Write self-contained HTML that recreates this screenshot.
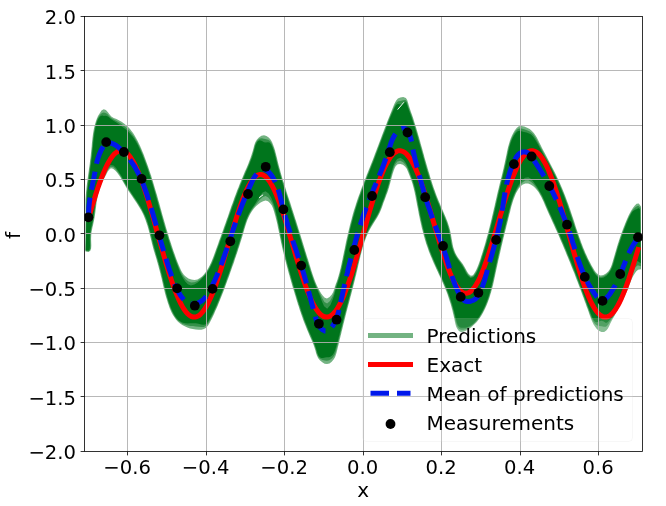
<!DOCTYPE html>
<html><head><meta charset="utf-8"><title>plot</title><style>html,body{margin:0;padding:0;background:#fff}svg{display:block}</style></head><body>
<svg width="666" height="506" viewBox="0 0 666 506" font-family="'DejaVu Sans', 'Liberation Sans', sans-serif" font-size="20" fill="#000">
<rect width="666" height="506" fill="#fff"/>
<defs><clipPath id="ax"><rect x="84.5" y="16.5" width="558.0" height="435.0"/></clipPath></defs>
<g clip-path="url(#ax)">
<path d="M85.5 200.0L85.7 197.1L85.9 194.3L86.1 191.4L86.4 188.6L86.7 185.8L87.1 183.0L87.4 180.2L87.8 177.4L88.2 174.6L88.6 171.8L89.0 169.0L89.4 166.2L89.8 163.3L90.1 160.5L90.5 157.7L90.8 154.9L91.1 152.0L91.4 149.1L91.7 146.3L91.9 143.4L92.2 140.5L92.5 137.7L92.9 134.8L93.3 132.0L93.8 129.3L94.4 126.6L95.1 123.9L95.9 121.3L96.8 118.7L98.0 116.1L99.6 113.4L101.5 110.6L103.7 109.2L105.9 110.0L107.9 112.3L109.6 114.6L111.3 116.6L113.7 118.0L116.5 119.1L119.2 120.4L121.6 121.8L124.0 123.4L126.1 125.2L128.1 127.1L130.0 129.1L131.7 131.3L133.4 133.6L134.9 136.0L136.3 138.4L137.7 140.9L138.9 143.5L140.1 146.1L141.3 148.8L142.4 151.5L143.5 154.1L144.5 156.8L145.5 159.5L146.5 162.2L147.5 164.9L148.4 167.6L149.3 170.2L150.2 172.9L151.1 175.6L151.9 178.3L152.8 181.0L153.6 183.7L154.4 186.5L155.2 189.2L156.0 191.9L156.8 194.6L157.6 197.3L158.3 200.1L159.1 202.8L159.9 205.5L160.6 208.3L161.4 211.0L162.1 213.7L162.9 216.5L163.7 219.2L164.5 222.0L165.3 224.7L166.0 227.4L166.9 230.2L167.7 232.9L168.5 235.6L169.3 238.4L170.2 241.1L171.1 243.8L172.0 246.5L172.9 249.2L173.8 251.9L174.8 254.6L175.7 257.3L176.7 259.9L177.7 262.6L178.8 265.2L179.9 267.8L181.1 270.4L182.4 272.8L184.0 275.0L186.0 276.8L188.4 278.4L191.3 279.5L194.5 279.9L197.4 279.5L199.9 278.1L202.0 276.4L203.9 274.4L205.6 272.3L207.2 270.0L208.6 267.6L209.9 265.1L211.1 262.5L212.2 259.8L213.3 257.1L214.3 254.3L215.3 251.6L216.2 248.9L217.2 246.2L218.2 243.5L219.1 240.8L220.1 238.2L221.1 235.5L222.0 232.9L223.0 230.2L223.9 227.6L224.8 224.9L225.8 222.2L226.7 219.5L227.7 216.9L228.6 214.2L229.5 211.5L230.5 208.8L231.4 206.1L232.4 203.4L233.4 200.8L234.3 198.1L235.3 195.4L236.3 192.7L237.3 190.1L238.4 187.4L239.4 184.8L240.5 182.1L241.6 179.5L242.7 176.9L243.8 174.2L244.9 171.6L246.1 169.0L247.2 166.4L248.3 163.8L249.3 161.1L250.3 158.5L251.2 155.8L252.1 153.1L252.9 150.4L253.6 147.7L254.3 145.0L255.3 142.3L256.8 139.8L258.9 137.4L261.4 135.7L264.0 135.2L266.5 135.9L268.7 137.4L270.5 139.6L272.0 142.1L273.1 144.8L274.1 147.5L275.0 150.3L275.7 153.0L276.4 155.8L277.1 158.5L277.7 161.3L278.4 164.0L279.1 166.8L279.9 169.5L280.6 172.2L281.4 175.0L282.2 177.7L283.0 180.4L283.9 183.1L284.7 185.8L285.6 188.6L286.4 191.3L287.3 194.0L288.2 196.7L289.1 199.4L290.0 202.1L290.9 204.8L291.7 207.5L292.6 210.3L293.5 213.0L294.4 215.7L295.2 218.4L296.1 221.1L296.9 223.8L297.8 226.5L298.6 229.2L299.5 231.9L300.3 234.6L301.2 237.4L302.0 240.1L302.8 242.8L303.7 245.5L304.5 248.2L305.3 250.9L306.2 253.7L307.0 256.4L307.9 259.1L308.7 261.8L309.5 264.5L310.4 267.2L311.2 270.0L312.1 272.7L313.0 275.4L313.9 278.1L314.9 280.8L316.0 283.4L317.1 286.0L318.4 288.6L319.7 291.1L321.2 293.5L322.9 295.8L324.8 297.8L327.0 298.5L329.6 297.1L331.8 294.6L333.2 292.0L334.1 289.4L334.9 286.8L335.8 284.1L336.8 281.4L337.7 278.7L338.5 276.0L339.3 273.2L340.0 270.5L340.7 267.7L341.3 264.9L341.9 262.1L342.5 259.3L343.0 256.6L343.6 253.8L344.2 251.0L344.8 248.2L345.3 245.4L345.9 242.6L346.5 239.8L347.2 237.1L347.8 234.3L348.4 231.5L349.1 228.8L349.7 226.0L350.4 223.3L351.2 220.5L351.9 217.8L352.6 215.1L353.4 212.3L354.2 209.6L355.1 206.9L355.9 204.2L356.8 201.5L357.7 198.8L358.7 196.1L359.7 193.4L360.6 190.7L361.6 188.1L362.7 185.4L363.7 182.7L364.7 180.1L365.8 177.4L366.8 174.8L367.9 172.1L368.9 169.5L370.0 166.8L371.0 164.2L372.1 161.5L373.1 158.9L374.1 156.2L375.1 153.6L376.1 151.0L377.1 148.3L378.1 145.7L379.1 143.0L380.1 140.4L381.1 137.7L382.1 135.1L383.1 132.4L384.1 129.7L385.2 127.1L386.2 124.4L387.2 121.8L388.3 119.1L389.3 116.4L390.4 113.7L391.5 111.0L392.6 108.3L393.7 105.6L394.8 103.0L396.2 100.5L397.9 98.6L400.3 97.4L403.2 97.1L405.9 98.0L407.3 100.3L408.2 103.2L409.0 106.1L409.9 108.8L410.8 111.5L411.8 114.2L412.7 116.8L413.6 119.5L414.4 122.2L415.3 124.9L416.1 127.6L416.9 130.3L417.7 133.0L418.5 135.8L419.3 138.5L420.1 141.2L420.8 144.0L421.6 146.7L422.4 149.5L423.1 152.2L423.9 155.0L424.6 157.7L425.4 160.5L426.2 163.2L427.0 165.9L427.8 168.7L428.6 171.4L429.4 174.1L430.2 176.9L431.1 179.6L431.9 182.3L432.8 185.0L433.7 187.7L434.7 190.4L435.6 193.0L436.6 195.7L437.6 198.3L438.7 201.0L439.8 203.6L440.9 206.2L442.0 208.8L443.2 211.4L444.3 214.0L445.4 216.6L446.5 219.2L447.5 221.8L448.4 224.5L449.3 227.2L450.0 230.0L450.6 232.7L451.1 235.6L451.6 238.4L452.1 241.3L452.6 244.1L453.2 246.9L454.0 249.6L455.0 252.2L456.2 254.7L457.7 257.2L459.4 259.5L461.1 261.8L462.8 264.1L464.3 266.5L465.7 269.0L467.0 271.5L468.7 273.9L470.9 275.8L473.0 275.2L474.8 272.6L476.2 269.9L477.4 267.3L478.4 264.7L479.4 262.1L480.3 259.4L481.1 256.6L482.0 253.9L482.8 251.2L483.6 248.5L484.5 245.8L485.3 243.0L486.0 240.3L486.8 237.5L487.6 234.8L488.3 232.0L489.0 229.3L489.7 226.5L490.4 223.8L491.0 221.0L491.7 218.2L492.3 215.5L493.0 212.7L493.6 209.9L494.3 207.2L494.9 204.4L495.5 201.6L496.2 198.8L496.8 196.1L497.4 193.3L498.1 190.5L498.8 187.8L499.4 185.0L500.1 182.2L500.8 179.5L501.5 176.7L502.2 173.9L502.8 171.2L503.5 168.4L504.1 165.6L504.7 162.9L505.3 160.1L505.9 157.3L506.5 154.5L507.0 151.8L507.6 149.0L508.3 146.2L509.1 143.5L509.9 140.8L510.9 138.1L512.0 135.5L513.4 132.8L514.9 130.2L516.7 127.9L518.8 126.3L521.4 125.9L524.3 126.6L527.1 127.8L529.7 129.1L531.9 130.9L533.8 132.9L535.4 135.2L536.8 137.6L538.2 140.2L539.4 142.7L540.7 145.3L542.0 147.9L543.3 150.4L544.7 152.9L546.0 155.5L547.3 158.0L548.6 160.5L549.9 163.0L551.2 165.5L552.5 168.1L553.8 170.6L555.1 173.1L556.4 175.7L557.6 178.2L558.8 180.8L560.0 183.4L561.1 186.0L562.2 188.6L563.3 191.2L564.4 193.9L565.4 196.5L566.4 199.2L567.4 201.9L568.4 204.6L569.3 207.3L570.3 210.0L571.2 212.7L572.1 215.4L573.0 218.1L573.9 220.8L574.8 223.5L575.6 226.2L576.5 228.9L577.4 231.6L578.3 234.2L579.2 236.9L580.2 239.5L581.1 242.2L582.1 244.8L583.1 247.5L584.2 250.1L585.3 252.7L586.5 255.3L587.7 257.9L588.9 260.5L590.3 263.1L591.7 265.7L593.2 268.3L594.8 270.9L596.5 273.1L598.5 274.8L600.7 275.5L603.4 275.0L606.0 273.5L608.2 271.5L609.8 269.2L611.0 266.7L612.0 264.0L612.8 261.2L613.6 258.5L614.4 255.7L615.2 252.9L616.0 250.2L616.8 247.4L617.6 244.7L618.5 242.0L619.4 239.3L620.3 236.6L621.2 234.0L622.2 231.3L623.2 228.6L624.2 226.0L625.2 223.4L626.3 220.8L627.4 218.2L628.6 215.6L629.9 213.0L631.3 210.5L632.9 208.1L634.6 205.7L636.6 203.8L638.8 203.5L641.0 206.6L641.0 269.3L638.1 269.8L636.1 271.5L634.6 273.7L633.2 276.1L632.0 278.5L630.9 281.1L629.9 283.7L628.9 286.3L627.8 288.9L626.8 291.5L625.7 294.0L624.6 296.5L623.4 299.0L622.1 301.4L620.9 303.8L619.6 306.2L618.3 308.6L617.0 311.0L615.7 313.5L614.4 315.9L613.0 318.3L611.7 320.8L610.4 323.3L609.2 325.9L607.9 328.4L606.3 330.6L604.1 331.9L601.4 331.9L598.9 330.7L596.8 328.9L595.1 326.8L593.6 324.6L592.4 322.1L591.3 319.5L590.4 316.9L589.4 314.3L588.5 311.6L587.6 309.0L586.6 306.4L585.7 303.8L584.7 301.2L583.8 298.6L582.8 296.0L581.9 293.4L580.9 290.8L580.0 288.2L579.0 285.7L578.0 283.1L577.0 280.5L576.0 278.0L575.1 275.4L574.1 272.8L573.0 270.3L572.0 267.7L571.0 265.2L570.0 262.6L568.9 260.1L567.9 257.5L566.8 254.9L565.8 252.4L564.7 249.8L563.6 247.3L562.6 244.7L561.5 242.2L560.4 239.7L559.3 237.1L558.2 234.6L557.1 232.1L555.9 229.6L554.8 227.1L553.7 224.5L552.5 222.0L551.4 219.5L550.3 217.0L549.1 214.5L548.0 212.0L546.9 209.5L545.8 207.0L544.7 204.4L543.6 201.8L542.4 199.3L541.2 196.8L539.9 194.4L538.5 192.1L536.9 189.9L535.0 187.8L533.0 186.0L530.6 184.4L528.1 183.4L525.4 183.5L522.8 184.6L520.6 186.3L518.8 188.5L517.3 190.9L516.0 193.3L514.9 195.9L513.9 198.4L513.0 201.0L512.2 203.7L511.4 206.3L510.7 209.0L510.1 211.7L509.4 214.3L508.7 217.0L508.1 219.7L507.4 222.4L506.7 225.0L506.1 227.7L505.4 230.4L504.7 233.1L504.1 235.8L503.4 238.4L502.8 241.1L502.2 243.8L501.5 246.5L500.9 249.2L500.3 251.9L499.7 254.6L499.1 257.3L498.4 260.0L497.9 262.6L497.3 265.3L496.7 268.0L496.1 270.7L495.5 273.4L495.0 276.1L494.4 278.8L493.8 281.5L493.2 284.2L492.5 286.9L491.8 289.6L491.1 292.2L490.3 294.8L489.5 297.5L488.6 300.1L487.6 302.7L486.6 305.2L485.5 307.8L484.3 310.3L483.0 312.8L481.6 315.2L480.1 317.5L478.5 319.8L476.8 321.9L475.0 323.8L473.1 325.6L471.0 327.4L468.6 329.1L465.9 330.7L463.3 331.8L460.9 332.0L458.9 331.0L457.4 329.1L456.2 326.8L455.4 324.1L454.8 321.2L454.2 318.3L453.6 315.5L452.9 312.7L452.3 309.9L451.5 307.2L450.8 304.5L450.0 301.9L449.1 299.3L448.3 296.7L447.4 294.1L446.4 291.6L445.4 289.1L444.4 286.5L443.3 284.0L442.2 281.5L441.1 279.0L439.9 276.5L438.7 274.0L437.6 271.5L436.4 269.0L435.3 266.4L434.1 263.9L433.0 261.4L431.9 258.8L430.8 256.3L429.8 253.7L428.8 251.2L427.9 248.6L427.0 246.0L426.1 243.4L425.3 240.7L424.5 238.1L423.8 235.5L423.1 232.8L422.4 230.1L421.7 227.5L421.1 224.8L420.5 222.1L419.9 219.4L419.4 216.7L418.8 214.0L418.3 211.3L417.8 208.6L417.2 205.8L416.7 203.1L416.2 200.4L415.7 197.7L415.2 194.9L414.6 192.2L414.0 189.6L413.3 186.9L412.6 184.3L411.8 181.7L410.9 179.2L409.9 176.6L408.9 173.9L407.8 171.2L406.6 168.6L405.0 166.4L402.9 164.7L400.3 163.9L397.7 164.3L395.8 166.0L394.5 168.6L393.5 171.2L392.6 173.9L391.9 176.6L391.2 179.2L390.5 181.9L389.8 184.5L389.1 187.2L388.3 189.8L387.4 192.4L386.4 195.0L385.5 197.6L384.5 200.2L383.5 202.8L382.6 205.4L381.7 208.0L380.7 210.6L379.6 213.0L378.3 215.5L376.9 217.9L375.4 220.2L374.0 222.5L372.5 224.9L371.1 227.2L369.7 229.7L368.5 232.1L367.4 234.6L366.3 237.1L365.3 239.7L364.4 242.3L363.6 244.9L362.8 247.5L362.0 250.2L361.3 252.9L360.6 255.5L360.0 258.2L359.3 260.9L358.7 263.6L358.1 266.3L357.5 269.0L356.8 271.7L356.2 274.4L355.5 277.1L354.9 279.8L354.2 282.5L353.5 285.2L352.9 287.8L352.2 290.5L351.5 293.2L350.8 295.8L350.1 298.5L349.4 301.2L348.7 303.8L348.0 306.5L347.3 309.1L346.6 311.8L345.9 314.5L345.3 317.1L344.6 319.8L343.9 322.5L343.2 325.2L342.6 327.9L341.9 330.5L341.3 333.2L340.6 335.9L340.0 338.6L339.3 341.3L338.7 344.0L338.0 346.7L337.4 349.3L336.7 352.0L336.0 354.6L335.0 357.2L333.6 359.6L331.7 361.8L329.5 363.4L327.0 364.1L324.6 363.7L322.3 362.3L320.1 360.4L318.2 358.2L317.0 355.8L316.1 353.2L315.4 350.5L314.6 347.9L313.7 345.3L312.7 342.7L311.6 340.2L310.5 337.7L309.4 335.2L308.3 332.6L307.2 330.1L306.2 327.6L305.2 325.0L304.2 322.4L303.2 319.9L302.3 317.3L301.4 314.7L300.5 312.1L299.6 309.5L298.8 306.8L297.9 304.2L297.1 301.6L296.3 299.0L295.5 296.3L294.7 293.7L293.9 291.0L293.1 288.4L292.3 285.7L291.5 283.1L290.8 280.4L290.0 277.8L289.3 275.1L288.5 272.5L287.8 269.8L287.1 267.1L286.4 264.5L285.7 261.8L285.0 259.1L284.3 256.4L283.7 253.8L283.0 251.1L282.4 248.4L281.8 245.7L281.2 243.0L280.6 240.3L280.1 237.6L279.5 234.9L279.0 232.2L278.4 229.5L277.8 226.8L277.3 224.1L276.7 221.5L276.0 218.8L275.3 216.1L274.6 213.4L273.8 210.7L272.9 208.1L271.8 205.5L270.1 203.2L268.0 201.3L265.6 200.5L263.1 201.2L260.6 202.6L258.3 204.2L256.2 206.0L254.3 208.0L252.6 210.2L251.1 212.4L249.8 214.8L248.6 217.2L247.5 219.7L246.6 222.3L245.7 225.0L244.9 227.6L244.1 230.3L243.3 233.0L242.6 235.6L241.8 238.3L240.9 240.9L240.1 243.6L239.3 246.2L238.4 248.8L237.6 251.5L236.7 254.1L235.8 256.7L234.9 259.3L234.1 261.9L233.2 264.5L232.2 267.1L231.3 269.7L230.4 272.3L229.5 274.9L228.6 277.5L227.6 280.1L226.7 282.6L225.7 285.2L224.8 287.8L223.8 290.4L222.8 292.9L221.8 295.5L220.8 298.1L219.8 300.6L218.7 303.2L217.7 305.7L216.6 308.3L215.4 310.8L214.3 313.4L213.1 315.9L211.9 318.4L210.6 320.9L209.3 323.4L207.9 325.8L206.1 327.7L204.0 329.0L201.4 329.7L198.6 329.8L195.7 329.5L192.8 329.1L190.0 328.4L187.3 327.5L184.7 326.3L182.3 325.0L180.1 323.4L178.0 321.7L176.2 319.7L174.6 317.6L173.1 315.3L171.8 312.9L170.7 310.4L169.6 307.9L168.7 305.3L167.8 302.7L167.0 300.0L166.2 297.4L165.4 294.7L164.7 292.1L164.1 289.4L163.4 286.7L162.8 284.0L162.2 281.3L161.6 278.6L160.9 275.9L160.3 273.2L159.6 270.5L158.9 267.9L158.2 265.2L157.4 262.6L156.7 259.9L155.9 257.3L155.1 254.7L154.3 252.0L153.5 249.4L152.8 246.7L152.1 244.0L151.4 241.3L150.8 238.6L150.1 236.0L149.5 233.3L148.8 230.6L148.1 227.9L147.3 225.3L146.4 222.7L145.5 220.1L144.5 217.5L143.5 215.0L142.3 212.6L141.0 210.1L139.6 207.7L138.2 205.4L136.7 203.0L135.1 200.7L133.6 198.4L132.0 196.1L130.5 193.8L128.9 191.5L127.4 189.2L126.0 186.9L124.6 184.6L123.3 182.2L121.9 179.9L120.6 177.5L119.0 175.2L117.2 172.8L115.2 170.4L113.0 168.7L110.9 168.3L109.1 169.7L107.5 172.1L106.0 174.9L104.6 177.6L103.3 180.2L102.0 182.6L100.9 185.0L99.9 187.6L99.1 190.2L98.4 192.8L97.8 195.5L97.3 198.2L96.8 201.0L96.4 203.8L96.1 206.6L95.7 209.3L95.4 212.1L95.0 214.8L94.6 217.5L94.1 220.1L93.6 222.6L93.0 225.2L92.4 227.7L91.9 230.3L91.4 233.1L91.2 235.9L91.1 239.0L91.2 242.3L91.3 245.6L91.1 248.5L90.3 250.8L88.6 251.9L85.5 251.5Z" fill="#00751c" fill-opacity="0.55"/>
<path d="M86.2 200.1L86.3 197.2L86.5 194.3L86.8 191.5L87.1 188.7L87.4 185.8L87.7 183.0L88.1 180.2L88.5 177.4L88.9 174.6L89.2 171.9L89.6 169.1L90.0 166.2L90.4 163.4L90.8 160.6L91.1 157.8L91.5 154.9L91.8 152.1L92.0 149.2L92.3 146.3L92.6 143.4L92.9 140.6L93.2 137.7L93.5 134.9L94.0 132.1L94.5 129.4L95.0 126.7L95.7 124.1L96.5 121.6L97.4 119.1L98.6 116.8L100.1 114.7L102.0 113.1L103.8 112.6L105.6 112.9L107.4 114.1L109.1 115.9L110.9 117.7L113.4 119.3L116.2 120.7L118.9 122.2L121.3 123.8L123.6 125.4L125.7 127.2L127.7 129.0L129.5 130.9L131.2 132.8L132.8 134.9L134.3 137.1L135.7 139.4L137.1 141.8L138.3 144.3L139.5 146.8L140.7 149.3L141.8 151.9L142.9 154.6L143.9 157.2L144.9 159.8L145.9 162.5L146.9 165.1L147.8 167.8L148.7 170.5L149.6 173.2L150.5 175.9L151.3 178.5L152.2 181.2L153.0 183.9L153.8 186.7L154.6 189.4L155.4 192.1L156.2 194.8L156.9 197.5L157.7 200.2L158.5 203.0L159.2 205.7L160.0 208.4L160.8 211.2L161.5 213.9L162.3 216.7L163.1 219.4L163.8 222.1L164.6 224.9L165.4 227.6L166.2 230.4L167.0 233.1L167.9 235.8L168.7 238.6L169.6 241.3L170.5 244.0L171.3 246.7L172.3 249.4L173.2 252.1L174.1 254.8L175.1 257.5L176.1 260.2L177.1 262.9L178.2 265.7L179.3 268.4L180.5 271.2L181.9 273.9L183.5 276.6L185.6 279.2L188.1 281.3L191.1 282.5L194.4 282.3L197.6 280.9L200.2 279.0L202.4 277.0L204.4 274.9L206.2 272.7L207.8 270.3L209.2 267.9L210.5 265.3L211.7 262.7L212.8 260.0L213.9 257.3L214.9 254.6L215.9 251.8L216.8 249.1L217.8 246.4L218.8 243.7L219.7 241.1L220.7 238.4L221.7 235.8L222.6 233.1L223.6 230.4L224.5 227.8L225.5 225.1L226.4 222.4L227.3 219.8L228.3 217.1L229.2 214.4L230.2 211.7L231.1 209.0L232.0 206.3L233.0 203.7L234.0 201.0L234.9 198.3L235.9 195.6L236.9 193.0L237.9 190.3L239.0 187.7L240.0 185.0L241.1 182.4L242.2 179.7L243.3 177.1L244.4 174.5L245.5 171.9L246.7 169.3L247.8 166.6L248.9 164.0L249.9 161.4L250.9 158.7L251.9 156.0L252.7 153.4L253.5 150.6L254.2 147.9L254.9 145.3L255.9 142.8L257.3 140.5L259.3 138.8L261.7 138.3L264.0 138.8L266.2 139.2L268.2 139.8L270.0 141.1L271.4 143.0L272.5 145.4L273.5 148.0L274.4 150.6L275.1 153.3L275.8 156.0L276.5 158.7L277.1 161.5L277.8 164.2L278.5 166.9L279.3 169.7L280.0 172.4L280.8 175.1L281.6 177.9L282.4 180.6L283.3 183.3L284.1 186.0L285.0 188.8L285.8 191.5L286.7 194.2L287.6 196.9L288.5 199.6L289.4 202.3L290.2 205.0L291.1 207.7L292.0 210.5L292.9 213.2L293.7 215.9L294.6 218.6L295.5 221.3L296.3 224.0L297.2 226.7L298.0 229.4L298.9 232.1L299.7 234.8L300.5 237.6L301.4 240.3L302.2 243.0L303.0 245.7L303.9 248.4L304.7 251.1L305.6 253.8L306.4 256.6L307.2 259.3L308.1 262.0L308.9 264.7L309.8 267.4L310.6 270.2L311.5 272.9L312.4 275.6L313.3 278.3L314.3 281.0L315.4 283.7L316.5 286.4L317.8 289.1L319.2 291.9L320.7 295.0L322.4 298.5L324.4 302.1L327.1 303.6L330.0 301.0L332.4 296.7L333.8 293.2L334.7 290.2L335.5 287.3L336.4 284.5L337.4 281.7L338.3 278.9L339.1 276.2L339.9 273.4L340.6 270.6L341.3 267.8L341.9 265.1L342.5 262.3L343.1 259.5L343.7 256.7L344.2 253.9L344.8 251.1L345.4 248.3L346.0 245.5L346.6 242.8L347.2 240.0L347.8 237.2L348.4 234.5L349.1 231.7L349.7 228.9L350.4 226.2L351.1 223.4L351.8 220.7L352.5 218.0L353.3 215.2L354.0 212.5L354.9 209.8L355.7 207.1L356.5 204.4L357.4 201.7L358.4 199.0L359.3 196.3L360.3 193.6L361.2 191.0L362.3 188.3L363.3 185.6L364.3 183.0L365.3 180.3L366.4 177.7L367.4 175.0L368.5 172.4L369.5 169.7L370.6 167.1L371.6 164.4L372.7 161.8L373.7 159.1L374.7 156.5L375.7 153.8L376.7 151.2L377.7 148.5L378.7 145.9L379.7 143.2L380.7 140.6L381.7 137.9L382.7 135.3L383.7 132.6L384.8 130.0L385.8 127.3L386.8 124.7L387.8 122.0L388.9 119.3L389.9 116.7L391.0 114.0L392.1 111.4L393.2 108.9L394.3 106.4L395.4 104.2L396.7 102.4L398.3 101.3L400.4 100.9L403.1 100.3L405.5 100.0L406.8 101.4L407.6 104.0L408.4 106.7L409.3 109.3L410.2 111.9L411.2 114.4L412.1 117.1L412.9 119.7L413.8 122.4L414.7 125.1L415.5 127.8L416.3 130.5L417.1 133.2L417.9 136.0L418.7 138.7L419.4 141.4L420.2 144.2L421.0 146.9L421.7 149.6L422.5 152.4L423.3 155.1L424.0 157.9L424.8 160.6L425.6 163.4L426.3 166.1L427.1 168.9L427.9 171.6L428.8 174.3L429.6 177.1L430.4 179.8L431.3 182.5L432.2 185.2L433.1 187.9L434.1 190.6L435.0 193.2L436.0 195.9L437.0 198.6L438.1 201.2L439.2 203.8L440.3 206.4L441.4 209.0L442.6 211.6L443.7 214.2L444.8 216.8L445.9 219.4L446.9 222.1L447.8 224.7L448.6 227.4L449.4 230.1L450.0 232.9L450.5 235.7L451.0 238.5L451.4 241.4L451.9 244.3L452.6 247.1L453.4 249.8L454.4 252.5L455.7 255.1L457.2 257.5L458.8 259.9L460.6 262.2L462.2 264.6L463.8 267.0L465.2 269.5L466.5 272.1L468.2 274.8L470.7 276.9L473.4 276.1L475.3 273.3L476.8 270.4L478.0 267.7L479.1 265.0L480.0 262.3L480.9 259.6L481.7 256.9L482.6 254.1L483.4 251.4L484.3 248.7L485.1 245.9L485.9 243.2L486.7 240.5L487.4 237.7L488.2 235.0L488.9 232.2L489.6 229.5L490.3 226.7L491.0 223.9L491.7 221.2L492.3 218.4L493.0 215.6L493.6 212.9L494.3 210.1L494.9 207.3L495.5 204.5L496.2 201.8L496.8 199.0L497.4 196.2L498.1 193.5L498.7 190.7L499.4 187.9L500.1 185.2L500.8 182.4L501.4 179.6L502.1 176.9L502.8 174.1L503.5 171.3L504.1 168.6L504.8 165.8L505.4 163.0L506.0 160.3L506.5 157.5L507.1 154.7L507.7 152.0L508.3 149.2L508.9 146.5L509.7 143.9L510.5 141.2L511.5 138.7L512.6 136.2L513.9 133.8L515.4 131.5L517.1 129.6L519.0 128.5L521.4 128.6L524.1 129.3L526.9 130.2L529.4 131.3L531.5 132.7L533.3 134.6L534.9 136.7L536.3 139.0L537.6 141.4L538.9 143.9L540.1 146.4L541.4 148.8L542.8 151.3L544.1 153.7L545.4 156.2L546.7 158.6L548.0 161.0L549.4 163.5L550.7 166.0L552.0 168.5L553.3 171.0L554.5 173.5L555.8 176.0L557.0 178.5L558.2 181.1L559.4 183.6L560.5 186.2L561.6 188.8L562.7 191.5L563.8 194.1L564.8 196.7L565.8 199.4L566.8 202.1L567.8 204.8L568.7 207.5L569.6 210.2L570.6 212.9L571.5 215.6L572.4 218.3L573.3 221.0L574.1 223.7L575.0 226.4L575.9 229.1L576.8 231.8L577.7 234.4L578.6 237.1L579.6 239.8L580.5 242.4L581.5 245.1L582.5 247.7L583.6 250.3L584.7 253.0L585.9 255.6L587.1 258.2L588.4 260.8L589.7 263.4L591.1 266.1L592.6 268.7L594.2 271.4L596.0 273.9L598.1 275.9L600.7 276.9L603.6 276.3L606.4 274.5L608.7 272.2L610.4 269.7L611.6 267.0L612.6 264.3L613.4 261.4L614.2 258.6L615.0 255.9L615.8 253.1L616.6 250.4L617.4 247.6L618.2 244.9L619.1 242.2L620.0 239.5L620.9 236.8L621.8 234.2L622.8 231.5L623.8 228.9L624.8 226.2L625.8 223.6L626.9 221.0L628.0 218.4L629.2 215.9L630.5 213.4L631.8 211.2L633.4 209.2L635.1 207.6L636.9 206.3L638.4 205.7L640.5 207.8L640.9 266.3L637.8 265.3L635.6 267.1L634.0 270.0L632.7 273.2L631.5 276.4L630.3 279.6L629.3 282.6L628.2 285.5L627.2 288.4L626.2 291.1L625.1 293.7L624.0 296.2L622.8 298.7L621.6 301.1L620.3 303.5L619.0 305.9L617.7 308.3L616.4 310.7L615.1 313.0L613.8 315.3L612.5 317.6L611.1 319.7L609.8 321.8L608.6 323.8L607.3 325.6L605.9 326.7L604.0 326.7L601.6 326.3L599.3 326.0L597.3 325.5L595.6 324.5L594.2 323.0L593.0 321.1L591.9 318.8L591.0 316.4L590.0 313.8L589.1 311.3L588.2 308.7L587.2 306.1L586.3 303.5L585.4 300.9L584.4 298.4L583.4 295.8L582.5 293.2L581.5 290.6L580.6 288.0L579.6 285.4L578.6 282.9L577.6 280.3L576.7 277.7L575.7 275.2L574.7 272.6L573.6 270.0L572.6 267.5L571.6 264.9L570.6 262.4L569.5 259.8L568.5 257.3L567.4 254.7L566.4 252.1L565.3 249.6L564.2 247.0L563.2 244.5L562.1 241.9L561.0 239.4L559.9 236.9L558.8 234.3L557.6 231.8L556.5 229.3L555.4 226.8L554.3 224.3L553.1 221.8L552.0 219.3L550.9 216.8L549.7 214.3L548.6 211.8L547.5 209.2L546.4 206.7L545.3 204.1L544.2 201.6L543.0 199.0L541.8 196.4L540.5 193.9L539.0 191.5L537.4 189.0L535.5 186.6L533.4 184.1L530.9 181.7L528.2 180.3L525.2 180.6L522.4 182.4L520.1 184.9L518.3 187.5L516.7 190.2L515.4 192.9L514.3 195.5L513.3 198.1L512.4 200.8L511.5 203.5L510.8 206.1L510.1 208.8L509.4 211.5L508.8 214.2L508.1 216.9L507.4 219.5L506.8 222.2L506.1 224.9L505.4 227.6L504.8 230.2L504.1 232.9L503.5 235.6L502.8 238.3L502.2 241.0L501.5 243.7L500.9 246.3L500.3 249.0L499.6 251.7L499.0 254.4L498.4 257.1L497.8 259.8L497.2 262.5L496.6 265.2L496.0 267.9L495.5 270.6L494.9 273.3L494.3 276.0L493.7 278.7L493.1 281.4L492.5 284.1L491.9 286.7L491.2 289.4L490.5 292.0L489.7 294.7L488.9 297.3L488.0 299.9L487.0 302.4L486.0 305.0L484.9 307.5L483.7 310.0L482.4 312.5L481.0 314.8L479.6 317.2L478.0 319.4L476.3 321.4L474.6 323.3L472.7 325.1L470.6 326.7L468.2 328.1L465.6 329.2L463.1 329.8L461.0 329.8L459.3 329.1L457.9 327.6L456.9 325.6L456.1 323.1L455.4 320.4L454.8 317.6L454.2 314.8L453.6 312.1L452.9 309.4L452.2 306.8L451.4 304.2L450.6 301.6L449.8 299.0L448.9 296.4L448.0 293.9L447.0 291.3L446.0 288.8L445.0 286.3L443.9 283.8L442.8 281.2L441.7 278.7L440.5 276.2L439.3 273.7L438.2 271.2L437.0 268.7L435.8 266.2L434.7 263.6L433.6 261.1L432.5 258.6L431.4 256.0L430.4 253.5L429.4 250.9L428.5 248.4L427.6 245.8L426.7 243.2L425.9 240.5L425.2 237.9L424.4 235.3L423.7 232.6L423.0 230.0L422.4 227.3L421.8 224.6L421.1 222.0L420.6 219.3L420.0 216.6L419.4 213.9L418.9 211.1L418.4 208.4L417.9 205.7L417.4 203.0L416.9 200.3L416.4 197.5L415.8 194.8L415.3 192.1L414.6 189.4L414.0 186.7L413.2 184.1L412.4 181.5L411.5 178.9L410.5 176.2L409.5 173.5L408.4 170.6L407.2 167.7L405.5 164.8L403.2 162.3L400.4 160.8L397.4 161.6L395.3 164.2L393.9 167.3L392.9 170.3L392.0 173.2L391.2 176.1L390.5 178.8L389.9 181.6L389.2 184.3L388.4 186.9L387.6 189.6L386.8 192.2L385.8 194.8L384.9 197.4L383.9 200.0L382.9 202.6L382.0 205.2L381.1 207.8L380.1 210.3L379.0 212.8L377.7 215.2L376.4 217.5L374.9 219.9L373.4 222.2L371.9 224.5L370.5 226.9L369.2 229.4L367.9 231.8L366.8 234.3L365.7 236.9L364.7 239.5L363.8 242.1L362.9 244.7L362.1 247.3L361.4 250.0L360.7 252.7L360.0 255.4L359.3 258.1L358.7 260.8L358.1 263.5L357.4 266.2L356.8 268.9L356.2 271.6L355.6 274.3L354.9 277.0L354.2 279.7L353.6 282.3L352.9 285.0L352.2 287.7L351.5 290.3L350.9 293.0L350.2 295.7L349.5 298.3L348.8 301.0L348.1 303.7L347.4 306.3L346.7 309.0L346.0 311.6L345.3 314.3L344.6 317.0L343.9 319.6L343.3 322.3L342.6 324.9L341.9 327.5L341.3 330.2L340.6 332.8L340.0 335.4L339.3 338.0L338.7 340.5L338.1 343.1L337.4 345.6L336.7 348.1L336.1 350.6L335.4 353.0L334.4 355.3L333.1 357.3L331.3 359.1L329.2 360.3L327.0 360.7L324.8 360.6L322.6 360.1L320.5 359.1L318.8 357.5L317.6 355.3L316.7 352.9L316.0 350.3L315.2 347.6L314.3 345.0L313.3 342.5L312.2 339.9L311.1 337.4L310.0 334.9L308.9 332.4L307.8 329.9L306.8 327.3L305.8 324.8L304.8 322.2L303.8 319.6L302.9 317.1L302.0 314.5L301.1 311.9L300.2 309.3L299.4 306.6L298.5 304.0L297.7 301.4L296.9 298.8L296.1 296.1L295.3 293.5L294.5 290.8L293.7 288.2L292.9 285.6L292.2 282.9L291.4 280.3L290.6 277.6L289.9 274.9L289.2 272.3L288.4 269.6L287.7 267.0L287.0 264.3L286.3 261.6L285.6 259.0L285.0 256.3L284.3 253.6L283.7 250.9L283.0 248.2L282.4 245.6L281.8 242.9L281.3 240.2L280.7 237.5L280.1 234.7L279.6 232.0L279.0 229.3L278.5 226.6L277.9 223.8L277.3 221.0L276.7 218.3L276.0 215.4L275.2 212.6L274.4 209.7L273.5 206.7L272.3 203.6L270.6 200.4L268.3 197.4L265.6 195.9L262.8 196.9L260.3 199.3L257.9 202.0L255.8 204.7L253.8 207.2L252.1 209.6L250.5 212.0L249.2 214.4L248.0 216.9L246.9 219.5L246.0 222.1L245.1 224.8L244.3 227.4L243.5 230.1L242.7 232.8L241.9 235.4L241.1 238.1L240.3 240.7L239.5 243.4L238.7 246.0L237.8 248.6L237.0 251.3L236.1 253.9L235.2 256.5L234.3 259.1L233.4 261.7L232.5 264.3L231.6 266.9L230.7 269.5L229.8 272.1L228.9 274.7L227.9 277.3L227.0 279.8L226.1 282.4L225.1 285.0L224.2 287.6L223.2 290.1L222.2 292.7L221.2 295.3L220.2 297.8L219.2 300.4L218.1 302.9L217.1 305.4L216.0 307.9L214.8 310.4L213.7 312.9L212.5 315.4L211.3 317.8L210.0 320.2L208.7 322.5L207.3 324.5L205.7 326.1L203.8 326.9L201.3 327.0L198.6 326.7L195.8 326.4L193.0 326.1L190.2 325.9L187.6 325.5L185.0 324.8L182.7 323.9L180.5 322.6L178.5 321.0L176.7 319.2L175.1 317.2L173.7 315.0L172.4 312.6L171.3 310.2L170.2 307.6L169.3 305.1L168.4 302.5L167.6 299.8L166.8 297.2L166.1 294.6L165.4 291.9L164.7 289.2L164.1 286.5L163.4 283.8L162.8 281.2L162.2 278.5L161.6 275.8L160.9 273.1L160.2 270.4L159.5 267.7L158.8 265.0L158.1 262.4L157.3 259.7L156.5 257.1L155.7 254.5L154.9 251.8L154.2 249.2L153.4 246.5L152.7 243.9L152.1 241.2L151.4 238.5L150.8 235.8L150.1 233.1L149.4 230.4L148.7 227.8L147.9 225.1L147.1 222.5L146.2 219.9L145.2 217.3L144.1 214.8L142.8 212.3L141.5 209.8L140.2 207.4L138.7 205.0L137.2 202.7L135.7 200.3L134.1 198.0L132.6 195.7L131.0 193.4L129.5 191.1L128.0 188.9L126.5 186.6L125.1 184.3L123.8 181.9L122.5 179.5L121.1 177.1L119.6 174.6L117.7 171.9L115.6 169.2L113.2 167.1L110.7 166.7L108.6 168.5L106.9 171.2L105.5 174.3L104.1 177.2L102.7 179.8L101.4 182.3L100.3 184.8L99.3 187.3L98.5 190.0L97.8 192.7L97.2 195.4L96.7 198.1L96.2 200.9L95.8 203.7L95.4 206.5L95.1 209.2L94.7 212.0L94.3 214.7L93.9 217.4L93.5 220.0L92.9 222.5L92.4 225.0L91.8 227.6L91.2 230.2L90.8 233.0L90.5 235.9L90.4 239.0L90.5 242.3L90.6 245.6L90.5 248.4L89.8 250.4L88.5 251.2L85.6 250.9Z" fill="#00751c" fill-opacity="0.55"/>
<path d="M86.8 200.1L87.0 197.2L87.2 194.4L87.4 191.5L87.7 188.7L88.0 185.9L88.4 183.1L88.7 180.3L89.1 177.5L89.5 174.7L89.9 171.9L90.3 169.1L90.7 166.3L91.1 163.5L91.4 160.7L91.8 157.9L92.1 155.0L92.4 152.1L92.7 149.3L93.0 146.4L93.2 143.5L93.5 140.7L93.8 137.8L94.2 135.0L94.6 132.3L95.1 129.5L95.7 126.9L96.3 124.3L97.1 121.8L98.0 119.5L99.2 117.5L100.7 116.0L102.4 115.5L103.9 116.1L105.2 115.8L106.9 115.9L108.6 117.1L110.5 118.8L113.1 120.6L116.0 122.2L118.6 124.0L120.9 125.7L123.2 127.4L125.3 129.1L127.2 130.8L129.0 132.6L130.7 134.4L132.3 136.3L133.8 138.3L135.2 140.4L136.5 142.7L137.8 145.0L138.9 147.4L140.1 149.9L141.2 152.4L142.3 155.0L143.3 157.6L144.3 160.2L145.3 162.8L146.2 165.4L147.2 168.1L148.1 170.7L149.0 173.4L149.8 176.1L150.7 178.8L151.5 181.4L152.4 184.1L153.2 186.8L154.0 189.6L154.8 192.3L155.5 195.0L156.3 197.7L157.1 200.4L157.8 203.1L158.6 205.9L159.4 208.6L160.1 211.3L160.9 214.1L161.7 216.8L162.4 219.6L163.2 222.3L164.0 225.1L164.8 227.8L165.6 230.5L166.4 233.3L167.3 236.0L168.1 238.8L169.0 241.5L169.8 244.2L170.7 246.9L171.6 249.6L172.6 252.4L173.5 255.1L174.5 257.8L175.5 260.5L176.5 263.3L177.6 266.1L178.7 269.0L179.9 272.0L181.3 275.1L183.1 278.3L185.2 281.5L187.8 284.3L190.9 285.6L194.4 284.6L197.8 282.4L200.6 279.9L202.9 277.6L204.9 275.4L206.7 273.1L208.3 270.7L209.8 268.2L211.1 265.6L212.3 263.0L213.5 260.3L214.5 257.5L215.5 254.8L216.5 252.0L217.4 249.3L218.4 246.6L219.4 244.0L220.3 241.3L221.3 238.6L222.3 236.0L223.2 233.3L224.2 230.7L225.1 228.0L226.1 225.3L227.0 222.6L228.0 220.0L228.9 217.3L229.8 214.6L230.8 211.9L231.7 209.2L232.7 206.6L233.6 203.9L234.6 201.2L235.6 198.5L236.5 195.9L237.5 193.2L238.5 190.5L239.6 187.9L240.6 185.3L241.7 182.6L242.8 180.0L243.9 177.4L245.0 174.8L246.1 172.1L247.3 169.5L248.4 166.9L249.5 164.3L250.5 161.6L251.5 158.9L252.5 156.3L253.3 153.6L254.1 150.8L254.8 148.1L255.5 145.5L256.5 143.2L257.8 141.3L259.7 140.2L262.0 140.9L264.0 142.3L265.9 142.6L267.8 142.3L269.4 142.6L270.8 144.0L271.9 146.1L272.9 148.4L273.7 150.9L274.5 153.5L275.2 156.2L275.8 158.9L276.5 161.6L277.2 164.4L277.9 167.1L278.6 169.8L279.4 172.6L280.2 175.3L281.0 178.1L281.8 180.8L282.6 183.5L283.5 186.2L284.3 189.0L285.2 191.7L286.1 194.4L287.0 197.1L287.8 199.8L288.7 202.5L289.6 205.2L290.5 207.9L291.4 210.7L292.3 213.4L293.1 216.1L294.0 218.8L294.8 221.5L295.7 224.2L296.5 226.9L297.4 229.6L298.2 232.3L299.1 235.0L299.9 237.7L300.8 240.5L301.6 243.2L302.4 245.9L303.3 248.6L304.1 251.3L304.9 254.0L305.8 256.8L306.6 259.5L307.5 262.2L308.3 264.9L309.2 267.6L310.0 270.4L310.9 273.1L311.8 275.8L312.7 278.5L313.7 281.3L314.8 284.0L315.9 286.7L317.2 289.6L318.6 292.8L320.2 296.5L321.9 301.2L324.1 306.3L327.2 308.8L330.4 304.9L332.9 298.9L334.4 294.4L335.3 291.0L336.1 287.9L337.1 284.9L338.0 282.0L338.9 279.2L339.8 276.4L340.5 273.6L341.3 270.8L341.9 268.0L342.5 265.2L343.1 262.4L343.7 259.6L344.3 256.8L344.9 254.0L345.4 251.2L346.0 248.5L346.6 245.7L347.2 242.9L347.8 240.1L348.4 237.4L349.0 234.6L349.7 231.8L350.3 229.1L351.0 226.3L351.7 223.6L352.4 220.9L353.1 218.1L353.9 215.4L354.7 212.7L355.5 210.0L356.3 207.3L357.2 204.6L358.1 201.9L359.0 199.2L359.9 196.5L360.9 193.9L361.9 191.2L362.9 188.5L363.9 185.9L364.9 183.2L365.9 180.5L367.0 177.9L368.0 175.2L369.1 172.6L370.1 169.9L371.2 167.3L372.2 164.6L373.3 162.0L374.3 159.4L375.3 156.7L376.3 154.1L377.3 151.4L378.3 148.8L379.3 146.1L380.3 143.5L381.3 140.8L382.3 138.2L383.3 135.5L384.4 132.9L385.4 130.2L386.4 127.6L387.4 124.9L388.4 122.2L389.5 119.6L390.5 117.0L391.6 114.4L392.7 111.9L393.8 109.5L394.9 107.3L396.0 105.4L397.2 104.2L398.7 104.1L400.6 104.5L403.0 103.5L405.1 101.9L406.2 102.6L406.9 104.8L407.8 107.3L408.7 109.7L409.6 112.2L410.5 114.7L411.4 117.3L412.3 120.0L413.2 122.6L414.0 125.3L414.9 128.0L415.7 130.7L416.5 133.4L417.3 136.1L418.0 138.9L418.8 141.6L419.6 144.3L420.3 147.1L421.1 149.8L421.9 152.6L422.6 155.3L423.4 158.1L424.2 160.8L424.9 163.6L425.7 166.3L426.5 169.0L427.3 171.8L428.1 174.5L429.0 177.2L429.8 180.0L430.7 182.7L431.6 185.4L432.5 188.1L433.4 190.8L434.4 193.5L435.4 196.1L436.4 198.8L437.5 201.4L438.6 204.1L439.7 206.7L440.8 209.3L442.0 211.9L443.1 214.5L444.2 217.1L445.3 219.7L446.3 222.3L447.2 224.9L448.0 227.6L448.7 230.3L449.3 233.0L449.9 235.8L450.3 238.6L450.8 241.5L451.3 244.4L451.9 247.2L452.8 250.0L453.8 252.8L455.1 255.4L456.7 257.9L458.3 260.3L460.0 262.6L461.7 265.0L463.2 267.5L464.6 270.0L465.9 272.7L467.7 275.6L470.5 278.0L473.8 277.1L475.9 274.0L477.4 270.9L478.6 268.1L479.7 265.4L480.6 262.6L481.5 259.8L482.4 257.1L483.2 254.3L484.1 251.6L484.9 248.9L485.7 246.1L486.5 243.4L487.3 240.6L488.1 237.9L488.8 235.1L489.5 232.4L490.3 229.6L491.0 226.8L491.6 224.1L492.3 221.3L493.0 218.5L493.6 215.8L494.3 213.0L494.9 210.2L495.5 207.5L496.2 204.7L496.8 201.9L497.4 199.1L498.1 196.4L498.7 193.6L499.4 190.8L500.0 188.1L500.7 185.3L501.4 182.5L502.1 179.8L502.8 177.0L503.4 174.3L504.1 171.5L504.8 168.7L505.4 166.0L506.0 163.2L506.6 160.4L507.2 157.7L507.7 154.9L508.3 152.2L508.9 149.5L509.6 146.8L510.3 144.2L511.1 141.7L512.1 139.2L513.2 136.9L514.5 134.7L516.0 132.8L517.6 131.3L519.3 130.8L521.3 131.2L523.9 131.9L526.6 132.6L529.0 133.4L531.1 134.6L532.8 136.2L534.3 138.2L535.7 140.4L537.0 142.7L538.3 145.1L539.6 147.5L540.9 149.8L542.2 152.2L543.5 154.5L544.8 156.9L546.1 159.2L547.5 161.6L548.8 164.0L550.1 166.4L551.4 168.8L552.7 171.3L553.9 173.8L555.2 176.3L556.4 178.8L557.6 181.4L558.8 183.9L559.9 186.5L561.0 189.1L562.1 191.7L563.2 194.3L564.2 197.0L565.2 199.6L566.2 202.3L567.2 205.0L568.1 207.7L569.0 210.4L569.9 213.1L570.8 215.8L571.7 218.5L572.6 221.2L573.5 223.9L574.4 226.6L575.3 229.3L576.2 232.0L577.1 234.6L578.0 237.3L579.0 240.0L579.9 242.6L580.9 245.3L581.9 247.9L583.0 250.6L584.1 253.2L585.3 255.9L586.5 258.5L587.8 261.1L589.1 263.8L590.6 266.4L592.1 269.1L593.7 271.9L595.5 274.6L597.8 276.9L600.7 278.2L603.8 277.6L606.8 275.5L609.1 272.8L610.9 270.1L612.2 267.3L613.2 264.5L614.1 261.6L614.8 258.8L615.6 256.1L616.4 253.3L617.2 250.6L618.0 247.8L618.9 245.1L619.7 242.4L620.6 239.7L621.5 237.0L622.4 234.4L623.4 231.7L624.4 229.1L625.4 226.5L626.4 223.9L627.5 221.3L628.6 218.7L629.8 216.2L631.0 213.9L632.4 211.8L633.9 210.4L635.6 209.5L637.2 208.9L638.1 207.9L639.9 209.0L640.8 263.2L637.6 260.9L635.1 262.8L633.5 266.4L632.1 270.3L630.9 274.3L629.7 278.0L628.7 281.5L627.6 284.8L626.6 287.8L625.6 290.7L624.5 293.3L623.4 295.9L622.2 298.4L621.0 300.8L619.7 303.2L618.5 305.6L617.2 308.0L615.9 310.3L614.5 312.6L613.2 314.8L611.9 316.8L610.6 318.7L609.3 320.3L608.0 321.7L606.8 322.8L605.5 322.8L603.8 321.5L601.7 320.7L599.6 321.3L597.7 322.1L596.1 322.2L594.7 321.5L593.6 320.0L592.5 318.1L591.6 315.8L590.7 313.4L589.7 310.9L588.8 308.4L587.8 305.9L586.9 303.3L586.0 300.7L585.0 298.1L584.1 295.5L583.1 292.9L582.1 290.4L581.2 287.8L580.2 285.2L579.2 282.6L578.2 280.1L577.3 277.5L576.3 274.9L575.3 272.4L574.3 269.8L573.2 267.2L572.2 264.7L571.2 262.1L570.1 259.6L569.1 257.0L568.0 254.4L567.0 251.9L565.9 249.3L564.8 246.8L563.8 244.2L562.7 241.7L561.6 239.2L560.5 236.6L559.4 234.1L558.2 231.6L557.1 229.0L556.0 226.5L554.9 224.0L553.7 221.5L552.6 219.0L551.5 216.5L550.3 214.0L549.2 211.5L548.1 209.0L547.0 206.4L545.9 203.9L544.8 201.3L543.6 198.7L542.4 196.1L541.0 193.5L539.5 190.9L537.9 188.2L535.9 185.3L533.8 182.2L531.2 179.1L528.3 177.2L525.1 177.7L522.1 180.3L519.7 183.5L517.7 186.6L516.2 189.6L514.8 192.4L513.7 195.1L512.6 197.9L511.7 200.6L510.9 203.3L510.2 206.0L509.5 208.6L508.8 211.3L508.1 214.0L507.5 216.7L506.8 219.4L506.1 222.1L505.5 224.7L504.8 227.4L504.1 230.1L503.5 232.8L502.8 235.5L502.2 238.1L501.5 240.8L500.9 243.5L500.3 246.2L499.6 248.9L499.0 251.6L498.4 254.3L497.8 257.0L497.2 259.7L496.6 262.4L496.0 265.1L495.4 267.8L494.8 270.5L494.3 273.2L493.7 275.9L493.1 278.6L492.5 281.2L491.9 283.9L491.2 286.6L490.6 289.2L489.8 291.9L489.1 294.5L488.3 297.1L487.4 299.6L486.4 302.2L485.4 304.7L484.3 307.2L483.1 309.7L481.9 312.1L480.5 314.5L479.0 316.8L477.5 319.0L475.8 321.0L474.1 322.9L472.3 324.5L470.2 326.0L467.9 327.1L465.3 327.7L463.0 327.8L461.1 327.7L459.7 327.2L458.5 326.1L457.5 324.4L456.7 322.1L456.1 319.6L455.5 316.9L454.9 314.2L454.2 311.6L453.5 308.9L452.8 306.4L452.0 303.8L451.2 301.2L450.4 298.7L449.5 296.1L448.6 293.6L447.6 291.1L446.6 288.5L445.6 286.0L444.5 283.5L443.4 281.0L442.2 278.5L441.1 275.9L439.9 273.4L438.8 270.9L437.6 268.4L436.4 265.9L435.3 263.4L434.2 260.9L433.1 258.3L432.0 255.8L431.0 253.3L430.0 250.7L429.1 248.1L428.2 245.6L427.4 243.0L426.6 240.4L425.8 237.7L425.0 235.1L424.3 232.5L423.7 229.8L423.0 227.2L422.4 224.5L421.8 221.8L421.2 219.1L420.6 216.4L420.1 213.7L419.6 211.0L419.0 208.3L418.5 205.6L418.0 202.9L417.5 200.1L417.0 197.4L416.5 194.7L415.9 192.0L415.3 189.2L414.6 186.6L413.8 183.9L413.0 181.2L412.1 178.6L411.1 175.9L410.1 173.0L409.0 170.0L407.7 166.7L406.0 163.2L403.5 159.8L400.4 157.7L397.1 158.9L394.8 162.4L393.3 166.1L392.3 169.4L391.4 172.6L390.6 175.6L389.9 178.5L389.2 181.3L388.6 184.0L387.8 186.7L387.0 189.3L386.1 192.0L385.2 194.6L384.3 197.2L383.3 199.8L382.3 202.4L381.4 205.0L380.5 207.5L379.5 210.1L378.4 212.5L377.2 214.8L375.8 217.2L374.3 219.5L372.9 221.8L371.4 224.2L369.9 226.6L368.6 229.1L367.3 231.6L366.2 234.1L365.1 236.6L364.1 239.2L363.2 241.9L362.3 244.5L361.5 247.2L360.8 249.8L360.0 252.5L359.4 255.2L358.7 257.9L358.1 260.6L357.4 263.3L356.8 266.1L356.2 268.8L355.6 271.4L354.9 274.1L354.3 276.8L353.6 279.5L352.9 282.2L352.3 284.8L351.6 287.5L350.9 290.2L350.2 292.8L349.5 295.5L348.8 298.2L348.1 300.8L347.5 303.5L346.8 306.1L346.1 308.8L345.4 311.5L344.7 314.1L344.0 316.8L343.3 319.4L342.6 322.0L342.0 324.6L341.3 327.2L340.6 329.8L340.0 332.3L339.3 334.9L338.7 337.3L338.1 339.8L337.4 342.2L336.8 344.5L336.1 346.8L335.4 349.1L334.7 351.3L333.8 353.3L332.6 355.0L330.9 356.5L328.9 357.2L326.9 357.3L325.1 357.6L323.0 358.0L321.0 357.9L319.3 356.8L318.2 354.9L317.3 352.6L316.6 350.0L315.8 347.4L314.9 344.8L313.9 342.2L312.8 339.7L311.7 337.1L310.6 334.6L309.5 332.1L308.4 329.6L307.4 327.1L306.4 324.5L305.4 322.0L304.4 319.4L303.5 316.8L302.6 314.3L301.7 311.7L300.9 309.1L300.0 306.4L299.2 303.8L298.3 301.2L297.5 298.6L296.7 295.9L295.9 293.3L295.1 290.7L294.3 288.0L293.6 285.4L292.8 282.7L292.0 280.1L291.3 277.4L290.5 274.8L289.8 272.1L289.1 269.5L288.3 266.8L287.6 264.1L286.9 261.5L286.3 258.8L285.6 256.1L284.9 253.5L284.3 250.8L283.7 248.1L283.1 245.4L282.5 242.7L281.9 240.0L281.3 237.3L280.8 234.6L280.2 231.8L279.7 229.1L279.1 226.3L278.5 223.5L277.9 220.6L277.3 217.8L276.6 214.8L275.9 211.8L275.1 208.7L274.1 205.3L272.9 201.7L271.1 197.6L268.6 193.5L265.6 191.3L262.6 192.5L259.9 196.0L257.5 199.9L255.3 203.4L253.3 206.4L251.5 209.0L250.0 211.6L248.6 214.1L247.4 216.7L246.3 219.3L245.4 221.9L244.5 224.6L243.7 227.2L242.9 229.9L242.1 232.6L241.3 235.2L240.5 237.9L239.7 240.5L238.9 243.2L238.0 245.8L237.2 248.4L236.3 251.1L235.5 253.7L234.6 256.3L233.7 258.9L232.8 261.5L231.9 264.1L231.0 266.7L230.1 269.3L229.2 271.9L228.3 274.4L227.3 277.0L226.4 279.6L225.5 282.2L224.5 284.8L223.6 287.3L222.6 289.9L221.6 292.5L220.6 295.0L219.6 297.5L218.6 300.1L217.5 302.6L216.5 305.1L215.4 307.6L214.2 310.0L213.1 312.4L211.9 314.8L210.7 317.1L209.4 319.4L208.2 321.5L206.8 323.3L205.3 324.5L203.5 324.8L201.3 324.4L198.6 323.7L195.8 323.2L193.1 323.2L190.4 323.3L187.8 323.5L185.3 323.3L183.0 322.7L180.9 321.7L178.9 320.4L177.2 318.7L175.6 316.7L174.2 314.6L173.0 312.3L171.9 309.9L170.8 307.4L169.9 304.8L169.0 302.3L168.2 299.7L167.4 297.0L166.7 294.4L166.0 291.7L165.3 289.1L164.7 286.4L164.1 283.7L163.4 281.0L162.8 278.3L162.2 275.6L161.5 272.9L160.9 270.2L160.2 267.5L159.4 264.9L158.7 262.2L157.9 259.6L157.1 256.9L156.3 254.3L155.6 251.6L154.8 249.0L154.1 246.4L153.4 243.7L152.7 241.0L152.1 238.3L151.4 235.6L150.7 233.0L150.0 230.3L149.3 227.6L148.5 224.9L147.7 222.3L146.8 219.6L145.8 217.0L144.6 214.5L143.4 212.0L142.1 209.5L140.7 207.1L139.3 204.7L137.8 202.3L136.2 200.0L134.7 197.7L133.1 195.4L131.5 193.1L130.0 190.8L128.5 188.5L127.1 186.2L125.7 183.9L124.4 181.6L123.1 179.2L121.7 176.6L120.1 174.0L118.2 171.1L116.1 168.0L113.5 165.6L110.6 165.1L108.1 167.3L106.4 170.4L104.9 173.7L103.5 176.7L102.1 179.4L100.9 181.9L99.7 184.5L98.7 187.1L97.9 189.8L97.1 192.5L96.5 195.2L96.0 198.0L95.6 200.8L95.2 203.6L94.8 206.4L94.4 209.2L94.1 211.9L93.7 214.6L93.3 217.2L92.8 219.8L92.3 222.4L91.7 224.9L91.1 227.5L90.6 230.1L90.2 232.9L89.9 235.8L89.8 239.0L89.9 242.3L90.0 245.6L89.8 248.3L89.3 250.0L88.4 250.6L85.7 250.2Z" fill="#00751c"/>
<path d="M397.9 109.3L403.6 102.6M259.4 197.5L262.8 195" stroke="#fff" stroke-width="1" stroke-linecap="round" fill="none"/>
<path d="M88.4 218.3L90.3 212.1L92.1 206.0L94.0 200.0L95.8 194.3L97.6 188.7L99.5 183.4L101.3 178.4L103.2 173.7L105.0 169.4L106.8 165.5L108.7 162.0L110.5 159.0L112.3 156.4L114.2 154.2L116.0 152.6L117.9 151.5L119.7 150.8L121.5 150.7L123.4 151.1L125.2 152.0L127.0 153.3L128.9 155.2L130.7 157.6L132.6 160.5L134.4 163.8L136.2 167.5L138.1 171.7L139.9 176.2L141.7 181.1L143.6 186.4L145.4 191.9L147.3 197.7L149.1 203.8L150.9 210.0L152.8 216.4L154.6 222.9L156.4 229.5L158.3 236.0L160.1 242.6L162.0 249.1L163.8 255.6L165.6 261.9L167.5 268.0L169.3 273.9L171.2 279.5L173.0 284.9L174.8 289.9L176.7 294.6L178.5 298.9L180.3 302.8L182.2 306.2L184.0 309.2L185.9 311.8L187.7 313.9L189.5 315.4L191.4 316.5L193.2 317.0L195.0 317.1L196.9 316.6L198.7 315.7L200.6 314.2L202.4 312.2L204.2 309.8L206.1 306.9L207.9 303.6L209.7 299.8L211.6 295.6L213.4 291.1L215.3 286.2L217.1 281.0L218.9 275.5L220.8 269.8L222.6 263.9L224.4 257.8L226.3 251.6L228.1 245.4L230.0 239.1L231.8 232.9L233.6 226.8L235.5 220.8L237.3 215.0L239.1 209.4L241.0 204.1L242.8 199.1L244.7 194.5L246.5 190.3L248.3 186.5L250.2 183.2L252.0 180.4L253.9 178.1L255.7 176.4L257.5 175.2L259.4 174.6L261.2 174.5L263.0 175.0L264.9 176.1L266.7 177.8L268.6 180.0L270.4 182.7L272.2 185.9L274.1 189.6L275.9 193.7L277.7 198.3L279.6 203.2L281.4 208.5L283.3 214.0L285.1 219.8L286.9 225.7L288.8 231.9L290.6 238.1L292.4 244.3L294.3 250.6L296.1 256.7L298.0 262.8L299.8 268.8L301.6 274.5L303.5 280.0L305.3 285.3L307.1 290.2L309.0 294.8L310.8 299.1L312.7 302.9L314.5 306.3L316.3 309.3L318.2 311.8L320.0 313.9L321.8 315.4L323.7 316.5L325.5 317.0L327.4 317.1L329.2 316.6L331.0 315.6L332.9 314.2L334.7 312.2L336.6 309.7L338.4 306.8L340.2 303.4L342.1 299.6L343.9 295.4L345.7 290.7L347.6 285.8L349.4 280.5L351.3 274.9L353.1 269.0L354.9 262.9L356.8 256.7L358.6 250.3L360.4 243.8L362.3 237.2L364.1 230.6L366.0 224.0L367.8 217.5L369.6 211.1L371.5 204.9L373.3 198.8L375.1 192.9L377.0 187.3L378.8 182.0L380.7 177.1L382.5 172.4L384.3 168.2L386.2 164.4L388.0 161.0L389.8 158.1L391.7 155.6L393.5 153.6L395.4 152.2L397.2 151.2L399.0 150.7L400.9 150.8L402.7 151.3L404.6 152.4L406.4 153.9L408.2 156.0L410.1 158.5L411.9 161.5L413.7 164.9L415.6 168.7L417.4 173.0L419.3 177.6L421.1 182.5L422.9 187.8L424.8 193.3L426.6 199.0L428.4 205.0L430.3 211.1L432.1 217.2L434.0 223.5L435.8 229.7L437.6 235.9L439.5 242.1L441.3 248.0L443.1 253.8L445.0 259.3L446.8 264.6L448.7 269.5L450.5 274.1L452.3 278.2L454.2 281.9L456.0 285.1L457.8 287.8L459.7 290.0L461.5 291.7L463.4 292.8L465.2 293.3L467.0 293.2L468.9 292.6L470.7 291.4L472.5 289.7L474.4 287.4L476.2 284.6L478.1 281.3L479.9 277.5L481.7 273.3L483.6 268.7L485.4 263.7L487.3 258.4L489.1 252.8L490.9 247.0L492.8 241.0L494.6 234.9L496.4 228.7L498.3 222.4L500.1 216.2L502.0 210.0L503.8 203.9L505.6 198.0L507.5 192.3L509.3 186.8L511.1 181.6L513.0 176.7L514.8 172.2L516.7 168.0L518.5 164.2L520.3 160.9L522.2 158.0L524.0 155.6L525.8 153.6L527.7 152.1L529.5 151.2L531.4 150.7L533.2 150.8L535.0 151.3L536.9 152.4L538.7 153.9L540.5 156.0L542.4 158.6L544.2 161.6L546.1 165.0L547.9 168.9L549.7 173.2L551.6 177.9L553.4 182.9L555.2 188.3L557.1 193.9L558.9 199.8L560.8 205.9L562.6 212.2L564.4 218.7L566.3 225.2L568.1 231.8L570.0 238.3L571.8 244.9L573.6 251.4L575.5 257.8L577.3 264.0L579.1 270.1L581.0 275.9L582.8 281.4L584.7 286.7L586.5 291.6L588.3 296.1L590.2 300.3L592.0 304.0L593.8 307.3L595.7 310.2L597.5 312.6L599.4 314.5L601.2 315.8L603.0 316.7L604.9 317.1L606.7 317.0L608.5 316.3L610.4 315.2L612.2 313.6L614.1 311.4L615.9 308.8L617.7 305.8L619.6 302.3L621.4 298.4L623.2 294.1L625.1 289.4L626.9 284.4L628.8 279.1L630.6 273.5L632.4 267.8L634.3 261.8L636.1 255.7L638.0 249.5" fill="none" stroke="#ff0000" stroke-width="5" stroke-linecap="square" stroke-linejoin="round"/>
<path d="M88.5 216.0L88.6 213.3L88.7 210.5L88.8 207.8L89.1 205.1L89.4 202.3L89.8 199.6L90.2 196.9L90.6 194.2L91.1 191.5L91.6 188.7L92.2 186.0L92.7 183.4L93.2 180.7L93.8 178.0L94.3 175.3L94.8 172.6L95.2 170.0L95.7 167.3L96.3 164.7L96.9 162.0L97.6 159.3L98.5 156.6L99.5 153.9L100.7 151.2L102.1 148.5L103.6 146.1L105.4 144.3L107.3 143.2L109.4 142.9L111.5 143.3L113.8 144.2L116.1 145.5L118.3 147.3L120.6 149.2L122.7 151.4L124.8 153.5L126.7 155.7L128.6 158.0L130.3 160.3L131.9 162.6L133.5 164.9L135.0 167.2L136.3 169.6L137.6 172.0L138.9 174.4L140.0 176.8L141.2 179.3L142.2 181.8L143.2 184.3L144.2 186.8L145.1 189.3L146.0 191.9L146.9 194.4L147.7 197.0L148.5 199.6L149.3 202.2L150.2 204.8L150.9 207.4L151.7 210.0L152.5 212.6L153.3 215.3L154.1 217.9L154.8 220.6L155.6 223.2L156.4 225.9L157.1 228.5L157.9 231.2L158.6 233.8L159.4 236.5L160.2 239.2L160.9 241.8L161.7 244.5L162.5 247.1L163.3 249.8L164.0 252.4L164.8 255.0L165.6 257.7L166.5 260.3L167.3 262.9L168.1 265.5L168.9 268.1L169.8 270.7L170.7 273.3L171.6 275.8L172.5 278.4L173.5 280.9L174.4 283.4L175.5 285.9L176.6 288.4L177.8 290.8L179.1 293.2L180.7 295.7L182.5 298.1L184.5 300.3L186.7 302.2L189.0 303.6L191.5 304.2L194.0 304.3L196.6 303.7L199.0 302.6L201.3 301.2L203.5 299.4L205.3 297.4L207.0 295.2L208.5 292.8L209.8 290.4L211.1 288.0L212.3 285.5L213.5 283.0L214.7 280.5L215.8 278.0L216.9 275.5L217.9 272.9L219.0 270.4L220.0 267.8L220.9 265.2L221.9 262.7L222.8 260.1L223.8 257.5L224.7 254.9L225.6 252.3L226.5 249.7L227.3 247.1L228.2 244.5L229.1 241.9L229.9 239.3L230.8 236.7L231.7 234.1L232.5 231.5L233.4 228.9L234.3 226.4L235.2 223.8L236.1 221.2L237.0 218.6L237.9 216.1L238.9 213.5L239.8 211.0L240.8 208.4L241.7 205.9L242.7 203.3L243.8 200.7L244.8 198.2L245.8 195.6L246.9 193.1L248.0 190.5L249.1 188.0L250.3 185.4L251.4 182.9L252.6 180.3L253.9 177.9L255.4 175.5L257.2 173.3L259.3 171.4L261.7 170.1L264.1 169.6L266.4 170.2L268.5 171.8L270.3 173.9L272.0 176.1L273.4 178.5L274.7 180.9L275.9 183.4L277.0 186.0L277.9 188.6L278.7 191.2L279.5 193.9L280.2 196.6L280.9 199.3L281.5 202.0L282.2 204.7L282.8 207.4L283.5 210.1L284.2 212.7L284.9 215.3L285.6 217.9L286.4 220.5L287.1 223.1L287.9 225.7L288.8 228.3L289.6 230.9L290.4 233.5L291.3 236.1L292.1 238.8L293.0 241.4L293.9 244.0L294.8 246.6L295.7 249.2L296.6 251.8L297.4 254.5L298.3 257.1L299.2 259.7L300.1 262.3L300.9 264.9L301.7 267.5L302.6 270.2L303.4 272.8L304.2 275.4L304.9 278.0L305.7 280.6L306.4 283.1L307.1 285.7L307.8 288.3L308.5 291.0L309.2 293.6L309.9 296.2L310.6 298.9L311.3 301.5L312.0 304.2L312.7 306.9L313.4 309.6L314.2 312.4L314.9 315.2L315.7 318.0L316.6 320.7L317.6 323.4L319.0 325.8L320.6 328.0L322.6 329.8L324.9 330.9L327.2 331.0L329.3 329.9L331.2 327.9L332.9 325.6L334.4 323.1L335.6 320.6L336.6 318.0L337.5 315.4L338.3 312.8L339.0 310.1L339.6 307.5L340.2 304.8L340.8 302.1L341.3 299.4L341.9 296.8L342.5 294.1L343.1 291.4L343.7 288.7L344.3 286.0L344.9 283.3L345.5 280.6L346.1 278.0L346.7 275.3L347.4 272.6L348.0 269.9L348.6 267.2L349.3 264.6L350.0 261.9L350.6 259.2L351.3 256.5L352.0 253.9L352.7 251.2L353.4 248.5L354.1 245.9L354.9 243.2L355.6 240.6L356.4 237.9L357.1 235.3L357.9 232.7L358.7 230.1L359.5 227.4L360.4 224.8L361.2 222.2L362.1 219.6L362.9 217.0L363.8 214.4L364.7 211.9L365.7 209.3L366.6 206.7L367.6 204.2L368.5 201.7L369.5 199.1L370.5 196.6L371.6 194.1L372.6 191.6L373.6 189.1L374.7 186.6L375.7 184.1L376.8 181.5L377.9 179.0L378.9 176.5L379.9 174.0L381.0 171.4L382.0 168.9L383.0 166.3L384.0 163.7L384.9 161.1L385.9 158.5L386.8 155.8L387.7 153.2L388.5 150.5L389.4 147.7L390.3 145.1L391.2 142.4L392.2 139.9L393.4 137.4L394.7 135.1L396.3 133.0L398.2 131.1L400.3 129.4L402.6 128.4L404.7 128.4L406.6 129.8L408.3 132.0L409.6 134.7L410.5 137.5L411.3 140.3L411.9 143.1L412.3 145.8L412.8 148.6L413.3 151.3L413.9 154.0L414.5 156.7L415.1 159.4L415.8 162.0L416.5 164.6L417.2 167.3L417.9 169.9L418.6 172.5L419.3 175.2L420.0 177.8L420.7 180.4L421.4 183.1L422.1 185.7L422.9 188.3L423.6 191.0L424.4 193.6L425.2 196.2L426.0 198.9L426.8 201.5L427.6 204.1L428.5 206.7L429.4 209.3L430.3 211.9L431.2 214.5L432.1 217.1L433.0 219.7L434.0 222.3L434.9 224.9L435.9 227.5L436.8 230.0L437.8 232.6L438.7 235.2L439.7 237.8L440.6 240.4L441.5 243.0L442.4 245.5L443.3 248.1L444.2 250.7L445.0 253.3L445.9 255.9L446.7 258.5L447.4 261.1L448.2 263.7L449.0 266.3L449.7 268.9L450.5 271.5L451.3 274.1L452.2 276.7L453.1 279.3L454.0 281.9L455.0 284.6L456.1 287.2L457.2 289.8L458.5 292.5L459.8 295.1L461.3 297.5L463.0 299.5L465.0 301.0L467.4 301.6L470.1 301.4L472.8 300.5L475.2 299.1L477.2 297.2L478.9 294.9L480.2 292.4L481.3 289.7L482.3 287.0L483.2 284.3L484.1 281.7L484.9 279.0L485.6 276.4L486.4 273.8L487.1 271.2L487.8 268.6L488.6 266.0L489.3 263.4L490.0 260.8L490.8 258.2L491.6 255.6L492.3 252.9L493.1 250.3L493.8 247.6L494.5 245.0L495.3 242.3L496.0 239.6L496.7 237.0L497.3 234.3L498.0 231.6L498.6 228.9L499.2 226.2L499.8 223.5L500.4 220.8L500.9 218.2L501.3 215.5L501.8 212.8L502.2 210.1L502.7 207.4L503.1 204.7L503.5 202.0L503.9 199.3L504.3 196.6L504.8 194.0L505.2 191.3L505.7 188.6L506.3 185.9L506.8 183.3L507.5 180.6L508.1 177.9L508.9 175.3L509.7 172.6L510.6 169.9L511.6 167.3L512.6 164.6L513.8 162.0L515.0 159.4L516.4 156.9L518.1 154.7L520.2 153.0L522.6 152.0L525.2 151.9L527.5 152.7L529.4 154.3L531.1 156.4L532.7 158.7L534.3 161.0L535.9 163.3L537.4 165.6L539.0 168.0L540.4 170.3L541.9 172.7L543.3 175.1L544.7 177.4L546.1 179.8L547.5 182.2L548.8 184.6L550.1 187.1L551.4 189.5L552.6 191.9L553.8 194.4L555.0 196.9L556.2 199.3L557.4 201.8L558.5 204.3L559.6 206.8L560.7 209.3L561.8 211.8L562.8 214.4L563.8 216.9L564.8 219.4L565.8 222.0L566.7 224.6L567.7 227.1L568.6 229.7L569.5 232.3L570.3 234.9L571.2 237.5L572.0 240.1L572.8 242.7L573.7 245.3L574.5 247.9L575.3 250.6L576.1 253.2L576.9 255.8L577.8 258.4L578.7 261.0L579.6 263.6L580.5 266.2L581.5 268.8L582.5 271.3L583.6 273.9L584.7 276.4L585.9 278.9L587.1 281.4L588.4 283.9L589.8 286.3L591.2 288.7L592.8 291.1L594.4 293.5L596.1 295.8L597.9 297.7L599.7 299.1L601.7 299.9L603.6 299.8L605.6 298.7L607.6 296.8L609.5 294.5L611.3 291.8L613.0 289.2L614.5 286.6L615.9 284.0L617.2 281.4L618.4 278.8L619.6 276.3L620.6 273.7L621.6 271.2L622.6 268.7L623.5 266.2L624.5 263.7L625.4 261.3L626.4 258.8L627.4 256.4L628.5 254.0L629.6 251.6L630.9 249.2L632.2 246.8L633.6 244.4L635.2 242.0L636.8 239.7L638.7 237.3" fill="none" stroke="#0018eb" stroke-width="5" stroke-dasharray="18.5 8" stroke-dashoffset="0" stroke-linejoin="round"/>
<path d="M127.5 16.5V451.5M206.5 16.5V451.5M284.5 16.5V451.5M363.5 16.5V451.5M441.5 16.5V451.5M520.5 16.5V451.5M598.5 16.5V451.5M84.5 396.5H642.5M84.5 342.5H642.5M84.5 288.5H642.5M84.5 233.5H642.5M84.5 179.5H642.5M84.5 125.5H642.5M84.5 70.5H642.5" stroke="#b0b0b0" stroke-width="0.9" fill="none"/>
<g fill="#000"><circle cx="88.4" cy="217.3" r="4.9"/><circle cx="106.2" cy="142.1" r="4.9"/><circle cx="123.9" cy="152.0" r="4.9"/><circle cx="141.6" cy="178.9" r="4.9"/><circle cx="159.4" cy="235.3" r="4.9"/><circle cx="177.1" cy="288.4" r="4.9"/><circle cx="194.8" cy="305.7" r="4.9"/><circle cx="212.5" cy="288.9" r="4.9"/><circle cx="230.3" cy="241.3" r="4.9"/><circle cx="248.0" cy="194.0" r="4.9"/><circle cx="265.7" cy="166.8" r="4.9"/><circle cx="283.4" cy="209.4" r="4.9"/><circle cx="301.2" cy="265.6" r="4.9"/><circle cx="318.9" cy="323.8" r="4.9"/><circle cx="336.6" cy="319.7" r="4.9"/><circle cx="354.3" cy="250.0" r="4.9"/><circle cx="372.1" cy="196.0" r="4.9"/><circle cx="389.8" cy="152.2" r="4.9"/><circle cx="407.5" cy="132.5" r="4.9"/><circle cx="425.2" cy="197.2" r="4.9"/><circle cx="443.0" cy="246.0" r="4.9"/><circle cx="460.7" cy="296.9" r="4.9"/><circle cx="478.4" cy="292.8" r="4.9"/><circle cx="496.1" cy="239.9" r="4.9"/><circle cx="513.9" cy="164.1" r="4.9"/><circle cx="531.6" cy="156.5" r="4.9"/><circle cx="549.3" cy="186.0" r="4.9"/><circle cx="567.0" cy="224.7" r="4.9"/><circle cx="584.8" cy="276.9" r="4.9"/><circle cx="602.5" cy="300.9" r="4.9"/><circle cx="620.2" cy="274.0" r="4.9"/><circle cx="638.0" cy="237.2" r="4.9"/></g>
</g>
<path d="M127.5 451.5v3.9M206.5 451.5v3.9M284.5 451.5v3.9M363.5 451.5v3.9M441.5 451.5v3.9M520.5 451.5v3.9M598.5 451.5v3.9M84.5 451.5h-3.9M84.5 396.5h-3.9M84.5 342.5h-3.9M84.5 288.5h-3.9M84.5 233.5h-3.9M84.5 179.5h-3.9M84.5 125.5h-3.9M84.5 70.5h-3.9M84.5 16.5h-3.9" stroke="#000" stroke-width="0.8" fill="none"/>
<rect x="84.5" y="16.5" width="558.0" height="435.0" fill="none" stroke="#000" stroke-width="0.8"/>
<text x="127.1" y="474.1" font-size="19.6" text-anchor="middle">−0.6</text>
<text x="205.6" y="474.1" font-size="19.6" text-anchor="middle">−0.4</text>
<text x="284.1" y="474.1" font-size="19.6" text-anchor="middle">−0.2</text>
<text x="362.6" y="474.1" font-size="19.6" text-anchor="middle">0.0</text>
<text x="441.1" y="474.1" font-size="19.6" text-anchor="middle">0.2</text>
<text x="519.6" y="474.1" font-size="19.6" text-anchor="middle">0.4</text>
<text x="598.1" y="474.1" font-size="19.6" text-anchor="middle">0.6</text>
<text x="76" y="458.8" font-size="19.6" text-anchor="end">−2.0</text>
<text x="76" y="404.5" font-size="19.6" text-anchor="end">−1.5</text>
<text x="76" y="350.2" font-size="19.6" text-anchor="end">−1.0</text>
<text x="76" y="295.8" font-size="19.6" text-anchor="end">−0.5</text>
<text x="76" y="241.5" font-size="19.6" text-anchor="end">0.0</text>
<text x="76" y="187.2" font-size="19.6" text-anchor="end">0.5</text>
<text x="76" y="132.8" font-size="19.6" text-anchor="end">1.0</text>
<text x="76" y="78.5" font-size="19.6" text-anchor="end">1.5</text>
<text x="76" y="24.2" font-size="19.6" text-anchor="end">2.0</text>
<text x="363.1" y="497" text-anchor="middle">x</text>
<text transform="translate(19.6 235.4) rotate(-90)" text-anchor="middle">f</text>
<rect x="362.5" y="318.5" width="270" height="123" rx="4" ry="4" fill="#fff" fill-opacity="0.15" stroke="#ccc" stroke-opacity="0.15" stroke-width="1"/>
<path d="M370.5 335.5h40" stroke="#00751c" stroke-opacity="0.55" stroke-width="5" stroke-linecap="square"/>
<path d="M370.5 364.4h40" stroke="#ff0000" stroke-width="5" stroke-linecap="square"/>
<path d="M370.5 393.3h40" stroke="#0018eb" stroke-width="5" stroke-dasharray="18.5 8"/>
<circle cx="390.5" cy="424" r="4.9"/>
<text x="426.5" y="343.1">Predictions</text>
<text x="426.5" y="372.1">Exact</text>
<text x="426.5" y="401.1">Mean of predictions</text>
<text x="426.5" y="430.1">Measurements</text>
</svg>
</body></html>
